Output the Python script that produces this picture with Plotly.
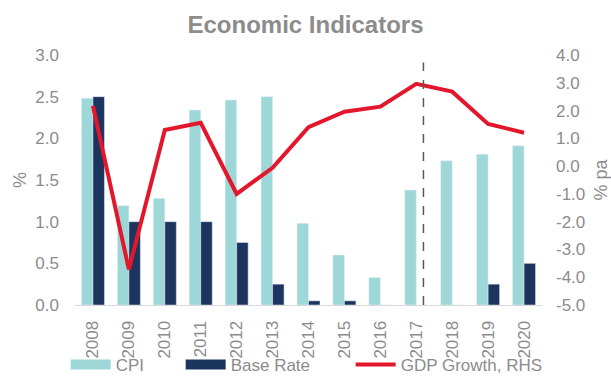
import plotly.graph_objects as go

years = ["2008", "2009", "2010", "2011", "2012", "2013", "2014",
         "2015", "2016", "2017", "2018", "2019", "2020"]
cpi = [2.48, 1.19, 1.28, 2.34, 2.46, 2.50, 0.98, 0.60, 0.33, 1.38, 1.73, 1.81, 1.91]
base_rate = [2.50, 1.00, 1.00, 1.00, 0.75, 0.25, 0.05, 0.05, 0.0, 0.0, 0.0, 0.25, 0.50]
gdp_growth = [2.17, -3.72, 1.30, 1.56, -1.00, -0.06, 1.40, 1.96, 2.14, 2.96, 2.68, 1.52, 1.20]

left_ticks = [0.0, 0.5, 1.0, 1.5, 2.0, 2.5, 3.0]
right_ticks = [-5, -4, -3, -2, -1, 0, 1, 2, 3, 4]
right_labels = ["-5.0", "-4.0", "-3.0", "-2.0", "-1.0", "0.0", "1.0", "2.0", "3.0", "4.0"]
forecast_split = 9.2  # category position of dashed divider (just after 2017)

CPI_COL = "#9dd7d8"
BR_COL = "#1c355e"
GDP_COL = "#e3172b"
GREY = "#8c8c8c"
FONT = "Liberation Sans, Arial, sans-serif"

fig = go.Figure()
fig.add_trace(go.Bar(x=years, y=cpi, name="CPI", marker_color=CPI_COL,
                     showlegend=False, yaxis="y"))
fig.add_trace(go.Bar(x=years, y=base_rate, name="Base Rate", marker_color=BR_COL,
                     showlegend=False, yaxis="y"))
fig.add_trace(go.Scatter(x=years, y=gdp_growth, name="GDP Growth, RHS", mode="lines",
                         line=dict(color=GDP_COL, width=4), yaxis="y2",
                         showlegend=False))

# legend-only entries
fig.add_trace(go.Scatter(x=[None], y=[None], name="CPI", mode="lines",
                         line=dict(color=CPI_COL, width=10), legendwidth=60))
fig.add_trace(go.Scatter(x=[None], y=[None], name="Base Rate", mode="lines",
                         line=dict(color=BR_COL, width=10), legendwidth=115))
fig.add_trace(go.Scatter(x=[None], y=[None], name="GDP Growth, RHS", mode="lines",
                         line=dict(color=GDP_COL, width=4)))

fig.add_shape(type="line", xref="x", yref="paper", x0=forecast_split, x1=forecast_split,
              y0=0, y1=0.97, line=dict(color="#595959", width=1.5, dash="dash"))

fig.update_layout(
    width=611, height=376,
    margin=dict(l=75, r=69, t=55, b=71, autoexpand=False),
    paper_bgcolor="white", plot_bgcolor="white",
    barmode="group", bargap=0.36, bargroupgap=0,
    font=dict(family=FONT, size=17, color=GREY),
    title=dict(text="Economic Indicators", x=0.5, xref="container", xanchor="center",
               y=1 - 25 / 376, yref="container", yanchor="middle",
               font=dict(family=FONT, size=24, color=GREY, weight="bold")),
    xaxis=dict(type="category", tickangle=-90, showgrid=False, showline=True,
               linecolor="#d9d9d9", linewidth=1, ticks="", ticklabelstandoff=8,
               tickfont=dict(size=17, color=GREY), automargin=False),
    yaxis=dict(range=[0, 3], tickvals=left_ticks, tickformat=".1f", showgrid=False,
               zeroline=False, showline=False, ticks="", ticklabelstandoff=15,
               title=dict(text="%", font=dict(size=18, color=GREY), standoff=4),
               automargin=False),
    yaxis2=dict(range=[-5, 4], overlaying="y", side="right", tickvals=right_ticks,
                ticktext=right_labels, showgrid=False, zeroline=False, showline=False,
                ticks="", ticklabelstandoff=13,
                title=dict(text="% pa", font=dict(size=18, color=GREY), standoff=10),
                automargin=False),
    legend=dict(orientation="h", x=-0.02, xanchor="left", y=-0.24, yanchor="middle",
                itemwidth=40, font=dict(size=17, color=GREY), bgcolor="rgba(0,0,0,0)",
                tracegroupgap=0, borderwidth=0),
)

fig.write_html("out.html")
